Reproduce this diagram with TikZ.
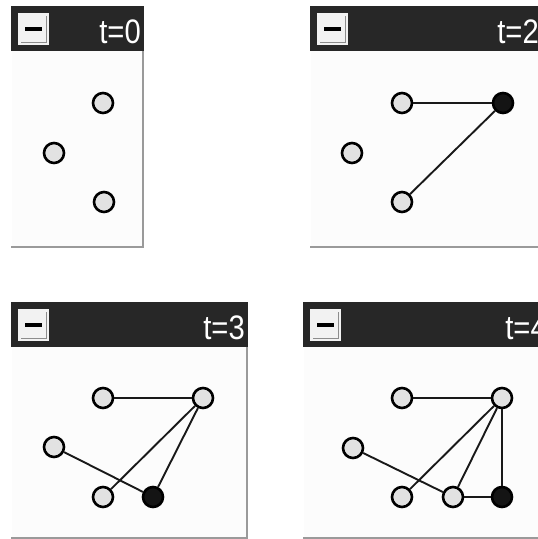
\documentclass[tikz,border=0pt]{standalone}
\usepackage{fontspec}
\setmainfont{Liberation Sans}
\definecolor{titlegray}{HTML}{272727}
\definecolor{bodywhite}{HTML}{FCFCFC}
\definecolor{framegray}{HTML}{9A9A9A}
\definecolor{nodegray}{HTML}{E2E2E2}
\definecolor{iconface}{HTML}{F2F2F2}
\definecolor{iconshade}{HTML}{8C8C8C}

% one window: left, top, right, bottom, caption
\newcommand{\winframe}[5]{%
  \fill[titlegray] (#1,#2) rectangle (#3,#2+45);
  \fill[bodywhite] (#1+1,#2+45) rectangle (#3-1,#4);
  \draw[framegray,line width=1.2pt] (#3-1,#2+45) -- (#3-1,#4);
  \draw[framegray,line width=1.8pt] (#1,#4-1) -- (#3,#4-1);
  % minimise button
  \fill[iconface] (#1+7,#2+7) rectangle (#1+38,#2+39);
  \draw[iconshade,line width=1pt] (#1+10,#2+36) -- (#1+35,#2+36) -- (#1+35,#2+10);
  \fill[black] (#1+14,#2+21) rectangle (#1+31,#2+25);
  % caption
  \node[anchor=base east,text=white,inner sep=0pt]
    at (#3-3,#2+37) {\fontsize{34}{34}\selectfont\scalebox{0.86}[1]{#5}};
}

\begin{document}
\begin{tikzpicture}[x=1pt,y=-1pt,
  vert/.style={circle,draw=black,line width=2.6pt,fill=nodegray,
               minimum size=20pt,inner sep=0pt},
  hub/.style={vert,fill=black!92},
  link/.style={line width=1.9pt,black!90}]
\useasboundingbox (0,0) rectangle (538,539);
\fill[white] (0,0) rectangle (538,539);
\clip (0,0) rectangle (538,539);

% windows
\winframe{11}{6}{144}{248}{t=0}
\winframe{310}{6}{542}{248}{t=2}
\winframe{11}{302}{248}{539}{t=3}
\winframe{303}{302}{550}{539}{t=4}

% t = 0
\node[vert] (a1) at (103,103) {};
\node[vert] (a2) at (54,153) {};
\node[vert] (a3) at (104,202) {};

% t = 2
\node[vert] (b1) at (402,103) {};
\node[hub]  (b2) at (503,103) {};
\node[vert] (b3) at (352,153) {};
\node[vert] (b4) at (402,202) {};
\draw[link] (b1) -- (b2);
\draw[link] (b2) -- (b4);

% t = 3
\node[vert] (c1) at (103,398) {};
\node[vert] (c2) at (203,398) {};
\node[vert] (c3) at (54,447) {};
\node[vert] (c4) at (103,497) {};
\node[hub]  (c5) at (153,497) {};
\draw[link] (c1) -- (c2);
\draw[link] (c2) -- (c4);
\draw[link] (c2) -- (c5);
\draw[link] (c3) -- (c5);

% t = 4
\node[vert] (d1) at (402,398) {};
\node[vert] (d2) at (502,398) {};
\node[vert] (d3) at (353,448) {};
\node[vert] (d4) at (402,497) {};
\node[vert] (d5) at (453,497) {};
\node[hub]  (d6) at (502,497) {};
\draw[link] (d1) -- (d2);
\draw[link] (d2) -- (d4);
\draw[link] (d2) -- (d5);
\draw[link] (d2) -- (d6);
\draw[link] (d3) -- (d5);
\draw[link] (d5) -- (d6);
\end{tikzpicture}
\end{document}
